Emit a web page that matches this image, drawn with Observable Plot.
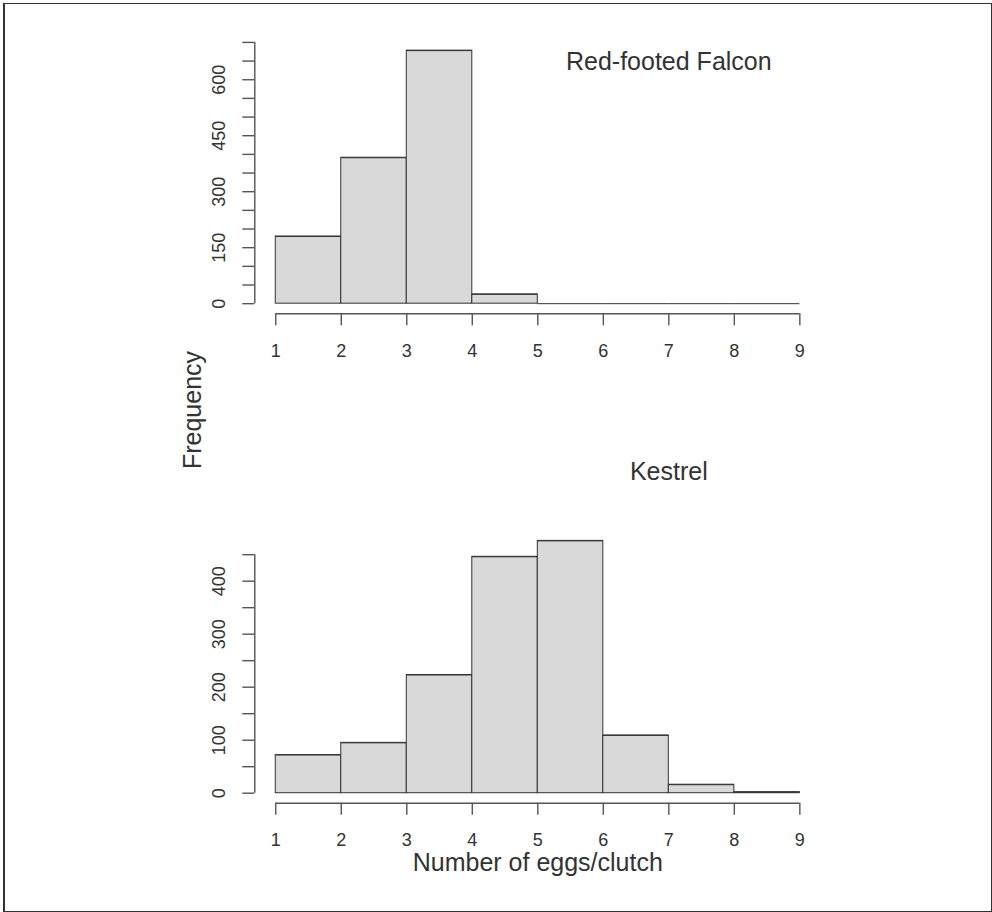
<!DOCTYPE html>
<html>
<head>
<meta charset="utf-8">
<script src="https://cdn.jsdelivr.net/npm/d3@7"></script>
<script src="https://cdn.jsdelivr.net/npm/@observablehq/plot@0.6"></script>
<style>
  html, body { margin: 0; padding: 0; background: #fff; }
  #chart { position: relative; width: 992px; height: 912px; overflow: hidden;
           font-family: "Liberation Sans", Arial, sans-serif; }
  #chart svg { position: absolute; left: 0; top: 0; }
  #frame { position: absolute; left: 3px; top: 3px; width: 989px; height: 909px;
           box-sizing: border-box; border: 1px solid #333; border-left-width: 2px; }
  #ylab { position: absolute; left: 192px; top: 410px; transform: translate(-50%, -50%) rotate(-90deg);
          font-size: 25px; line-height: 1; color: #333; white-space: nowrap; }
</style>
</head>
<body>
<div id="chart"><div id="frame"></div><div id="ylab"></div></div>
<script>
// Clutch-size histograms: bins of one egg from 1 to 9
const binEdges = [1, 2, 3, 4, 5, 6, 7, 8, 9];
const falconCounts = [180, 391, 678, 25, 0, 0, 0, 0];
const kestrelCounts = [72, 95, 223, 446, 476, 109, 16, 2];

const xTicks = [1, 2, 3, 4, 5, 6, 7, 8, 9];
const falconYTicks = [0, 50, 100, 150, 200, 250, 300, 350, 400, 450, 500, 550, 600, 650, 700];
const falconYLabels = [0, 150, 300, 450, 600];
const kestrelYTicks = [0, 50, 100, 150, 200, 250, 300, 350, 400, 450];
const kestrelYLabels = [0, 100, 200, 300, 400];

const falconTitle = "Red-footed Falcon";
const kestrelTitle = "Kestrel";
const xLabel = "Number of eggs/clutch";
const yLabel = "Frequency";

const W = 992, H = 912;
const FONT = "'Liberation Sans', Arial, sans-serif";
const INK = "#333";
const AXIS = "#555";
const BAR_FILL = "#d9d9d9";

function bins(counts) {
  return counts.map((c, i) => ({x1: binEdges[i], x2: binEdges[i + 1], count: c}));
}

// base-graphics style panel: the plot region is the data range padded by 4%
function panel({counts, yTicks, yLabels, title, marginTop, marginBottom, titleDy, withXLabel}) {
  const data = bins(counts);
  const lo = binEdges[0], hi = binEdges[binEdges.length - 1];
  const ymax = d3.max(counts);
  const xDomain = [lo - 0.04 * (hi - lo), hi + 0.04 * (hi - lo)];
  const yDomain = [-0.04 * ymax, ymax * 1.04];
  const marks = [
    Plot.rectY(data, {x1: "x1", x2: "x2", y: "count", fill: BAR_FILL, stroke: INK, strokeWidth: 1}),
    // bar tops (keeps empty bins visible as a line on the baseline)
    Plot.ruleY(data, {x1: "x1", x2: "x2", y: "count", stroke: INK, strokeWidth: 1}),
    // axis lines run from the first to the last tick
    Plot.ruleY([yDomain[0]], {x1: xTicks[0], x2: xTicks[xTicks.length - 1], stroke: AXIS, strokeWidth: 1.4}),
    Plot.ruleX([xDomain[0]], {y1: yTicks[0], y2: yTicks[yTicks.length - 1], stroke: AXIS, strokeWidth: 1.4}),
    Plot.axisX({ticks: xTicks, tickSize: 12, tickPadding: 18, tickFormat: d => String(d),
                label: null, stroke: AXIS, strokeWidth: 1.4, fill: INK, fontSize: 18}),
    Plot.axisY({ticks: yTicks, tickSize: 12, tickFormat: () => "", label: null,
                stroke: AXIS, strokeWidth: 1.4}),
    Plot.text(yLabels, {y: d => d, text: d => String(d), frameAnchor: "left", dx: -36,
                        rotate: -90, textAnchor: "middle", lineAnchor: "middle", fontSize: 18, fill: INK}),
    Plot.text([title], {x: () => 7, frameAnchor: "top", dy: titleDy, fontSize: 25, fill: INK})
  ];
  if (withXLabel) {
    marks.push(Plot.text([xLabel], {frameAnchor: "bottom", dy: 68, fontSize: 25, fill: INK}));
  }
  return Plot.plot({
    width: W,
    height: H,
    marginLeft: 254.3,
    marginRight: W - 820.3,
    marginTop,
    marginBottom,
    x: {domain: xDomain},
    y: {domain: yDomain},
    style: {fontFamily: FONT, fontSize: "18px", color: INK, background: "transparent", overflow: "visible"},
    marks
  });
}

const chart = document.getElementById("chart");
chart.appendChild(panel({
  counts: falconCounts, yTicks: falconYTicks, yLabels: falconYLabels, title: falconTitle,
  marginTop: 40, marginBottom: H - 313.3, titleDy: 12, withXLabel: false
}));
chart.appendChild(panel({
  counts: kestrelCounts, yTicks: kestrelYTicks, yLabels: kestrelYLabels, title: kestrelTitle,
  marginTop: 530.3, marginBottom: H - 802.8, titleDy: -68.3, withXLabel: true
}));
document.getElementById("ylab").textContent = yLabel;
</script>
</body>
</html>
